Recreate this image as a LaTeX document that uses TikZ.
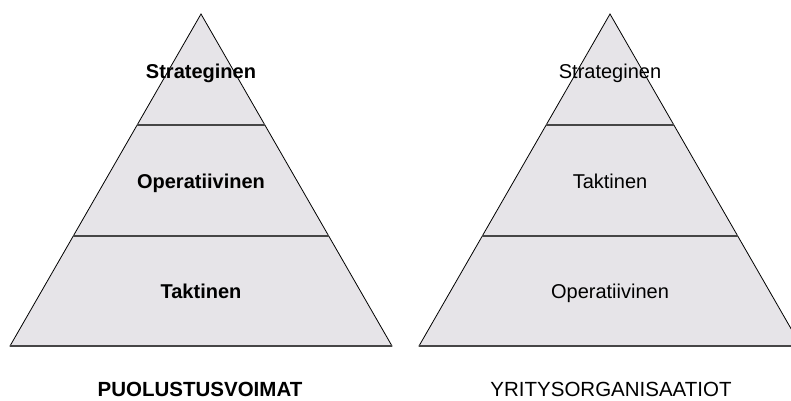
\documentclass[tikz,border=0pt]{standalone}
\usepackage{fontspec}
\setmainfont{Liberation Sans}
\usetikzlibrary{calc}
\definecolor{pyrfill}{RGB}{230,228,232}
\definecolor{sepline}{RGB}{70,70,70}
\tikzset{
  pyr/.style={fill=pyrfill, draw=black, line width=0.8pt, line join=miter},
  sep/.style={draw=sepline, line width=1.4pt},
  lvl/.style={anchor=base, inner sep=0pt, font=\fontsize{20}{22}\selectfont},
  lvlb/.style={lvl, font=\fontsize{20}{22}\selectfont\bfseries},
  capt/.style={anchor=base, inner sep=0pt, font=\fontsize{20.5}{22}\selectfont},
  captb/.style={capt, font=\fontsize{20.5}{22}\selectfont\bfseries},
}
\begin{document}
\begin{tikzpicture}[x=1pt,y=1pt]
\useasboundingbox (0,0) rectangle (791,400);
\begin{scope}
\clip (0,0) rectangle (791,400);
% left pyramid
\coordinate (LA) at (201,386);
\coordinate (LB) at (10,54);
\coordinate (LC) at (392,54);
\path[pyr] (LA) -- (LB) -- (LC) -- cycle;
\coordinate (L1a) at ($(LA)!0.3343!(LB)$);
\coordinate (L1b) at ($(LA)!0.3343!(LC)$);
\coordinate (L2a) at ($(LA)!0.6687!(LB)$);
\coordinate (L2b) at ($(LA)!0.6687!(LC)$);
\draw[sep] (L1a) -- (L1b);
\draw[sep] (L2a) -- (L2b);
\draw[sep] (LB) -- (LC);
% right pyramid
\coordinate (RA) at (610,386);
\coordinate (RB) at (419,54);
\coordinate (RC) at (801,54);
\path[pyr] (RA) -- (RB) -- (RC) -- cycle;
\coordinate (R1a) at ($(RA)!0.3343!(RB)$);
\coordinate (R1b) at ($(RA)!0.3343!(RC)$);
\coordinate (R2a) at ($(RA)!0.6687!(RB)$);
\coordinate (R2b) at ($(RA)!0.6687!(RC)$);
\draw[sep] (R1a) -- (R1b);
\draw[sep] (R2a) -- (R2b);
\draw[sep] (RB) -- (RC);
\end{scope}
% left labels
\node[lvlb] (ls) at (201,322) {Strateginen};
\node[lvlb] (lo) at (201,212) {Operatiivinen};
\node[lvlb] (lt) at (201,102) {Taktinen};
\node[captb] (lcap) at (200,4) {PUOLUSTUSVOIMAT};
% right labels
\node[lvl] (rs) at (610,322) {Strateginen};
\node[lvl] (rt) at (610,212) {Taktinen};
\node[lvl] (ro) at (610,102) {Operatiivinen};
\node[capt] (rcap) at (611,4) {YRITYSORGANISAATIOT};
\end{tikzpicture}
\end{document}
